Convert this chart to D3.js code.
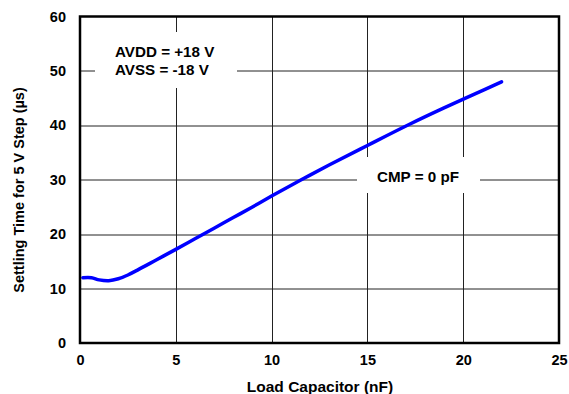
<!DOCTYPE html>
<html>
<head>
<meta charset="utf-8">
<script src="https://cdn.jsdelivr.net/npm/d3@7"></script>
<style>
  body { margin: 0; background: #fff; }
  svg text { font-family: "Liberation Sans", Arial, Helvetica, sans-serif; font-weight: bold; fill: #000; }
</style>
</head>
<body>
<svg width="569" height="394"></svg>
<script>
// load capacitor (nF) vs settling time (us)
var capNF = [0.15, 0.6, 1.0, 1.5, 2.0, 2.5, 3, 4, 5, 6, 7, 8, 9, 10, 11.5, 13, 15, 17.2, 19, 20.5, 22];
var settleUs = [12.0, 12.0, 11.6, 11.45, 11.8, 12.5, 13.4, 15.3, 17.2, 19.15, 21.1, 23.05, 25.0, 27.0, 29.9, 32.7, 36.3, 40.2, 43.2, 45.6, 48.0];

var xTicks = [0, 5, 10, 15, 20, 25];
var yTicks = [0, 10, 20, 30, 40, 50, 60];

var xTitle = "Load Capacitor (nF)";
var yTitle = "Settling Time for 5 V Step (µs)";
var noteSupply = ["AVDD = +18 V", "AVSS = -18 V"];
var noteCmp = "CMP = 0 pF";

var svg = d3.select("svg");

var margin = { top: 16.5, right: 10, bottom: 51, left: 80 },
    width = 569 - margin.left - margin.right,
    height = 394 - margin.top - margin.bottom;

var g = svg.append("g").attr("transform", "translate(" + margin.left + "," + margin.top + ")");

var x = d3.scaleLinear().domain([0, 25]).range([0, width]);
var y = d3.scaleLinear().domain([0, 60]).range([height, 0]);

// grid
g.append("g")
    .attr("class", "grid")
    .selectAll("line.v")
    .data(xTicks.slice(1, -1))
    .enter().append("line")
    .attr("x1", d => Math.round(x(d)) + 0.5).attr("x2", d => Math.round(x(d)) + 0.5)
    .attr("y1", 0).attr("y2", height)
    .attr("stroke", "#222").attr("stroke-width", 1);

g.append("g")
    .attr("class", "grid")
    .selectAll("line.h")
    .data(yTicks.slice(1, -1))
    .enter().append("line")
    .attr("y1", d => Math.round(y(d)) + 0.5).attr("y2", d => Math.round(y(d)) + 0.5)
    .attr("x1", 0).attr("x2", width)
    .attr("stroke", "#222").attr("stroke-width", 1);

// white boxes behind the notes (they cut the grid)
g.append("rect").attr("x", 95 - margin.left).attr("y", 32 - margin.top)
    .attr("width", 142).attr("height", 56).attr("fill", "#fff");
g.append("rect").attr("x", 357 - margin.left).attr("y", 157 - margin.top)
    .attr("width", 123).attr("height", 36).attr("fill", "#fff");

// curve
var line = d3.line()
    .x(function(d, i) { return x(capNF[i]); })
    .y(function(d) { return y(d); })
    .curve(d3.curveCatmullRom.alpha(0.5));

g.append("path")
    .datum(settleUs)
    .attr("fill", "none")
    .attr("stroke", "#0000ff")
    .attr("stroke-width", 3.5)
    .attr("stroke-linecap", "round")
    .attr("d", line);

// frame
g.append("rect")
    .attr("x", 0).attr("y", 0)
    .attr("width", width).attr("height", height)
    .attr("fill", "none").attr("stroke", "#000").attr("stroke-width", 2.5);

// axes (labels only)
var xAxis = g.append("g")
    .attr("transform", "translate(0," + height + ")")
    .call(d3.axisBottom(x).tickValues(xTicks).tickSize(0).tickPadding(12));
xAxis.select(".domain").remove();
xAxis.selectAll("text").attr("font-size", 14.5).attr("fill", "#000");

var yAxis = g.append("g")
    .call(d3.axisLeft(y).tickValues(yTicks).tickSize(0).tickPadding(14));
yAxis.select(".domain").remove();
yAxis.selectAll("text").attr("font-size", 14.5).attr("fill", "#000");

// titles
svg.append("text")
    .attr("x", 320)
    .attr("y", 392)
    .attr("text-anchor", "middle")
    .attr("font-size", 15.5)
    .text(xTitle);

svg.append("text")
    .attr("transform", "translate(24,190) rotate(-90)")
    .attr("text-anchor", "middle")
    .attr("font-size", 14.5)
    .text(yTitle);

// notes
svg.selectAll("text.supply")
    .data(noteSupply)
    .enter().append("text")
    .attr("class", "supply")
    .attr("x", 115)
    .attr("y", function(d, i) { return 57 + i * 17.5; })
    .attr("font-size", 15.2)
    .text(d => d);

svg.append("text")
    .attr("x", 377)
    .attr("y", 182)
    .attr("font-size", 15.2)
    .text(noteCmp);
</script>
</body>
</html>
